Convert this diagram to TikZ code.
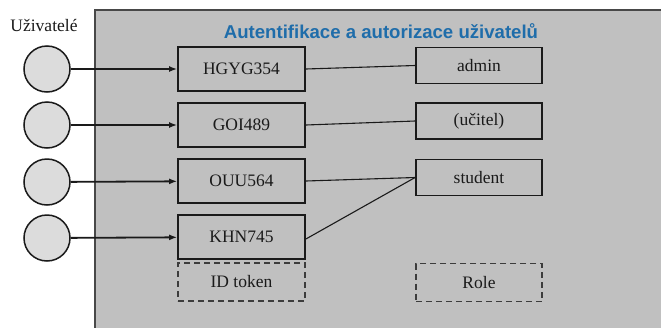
\documentclass[tikz,border=0pt]{standalone}
\usepackage{fontspec}
\setmainfont{Liberation Serif}
\newfontfamily\titlefont{Liberation Sans}
\usetikzlibrary{arrows.meta}
\definecolor{panel}{HTML}{C0C0C0}
\definecolor{userfill}{HTML}{DCDCDC}
\definecolor{titleblue}{HTML}{1F6DAA}
\definecolor{ink}{HTML}{1A1A1A}
\tikzset{
  user/.style={circle, draw=ink, line width=1.5pt, fill=userfill, minimum size=46pt, inner sep=0pt},
  idbox/.style={draw=ink, line width=1.8pt, fill=panel, minimum width=127pt, minimum height=44pt, inner sep=0pt, font=\fontsize{17.5}{20}\selectfont, text=ink},
  rolebox/.style={draw=ink, line width=1.8pt, fill=panel, minimum width=126pt, minimum height=36pt, inner sep=0pt, font=\fontsize{17.5}{20}\selectfont, text=ink},
  legendbox/.style={draw=ink!85, line width=1.9pt, dash pattern=on 6pt off 4pt, minimum width=127pt, minimum height=38pt, inner sep=0pt, font=\fontsize{17.5}{20}\selectfont, text=ink},
  login/.style={draw=ink, line width=1.8pt, -{Latex[length=8pt,width=6pt]}},
  assign/.style={draw=ink, line width=1.1pt}
}
\begin{document}
\begin{tikzpicture}[x=1pt,y=-1pt]
\useasboundingbox (0,0) rectangle (661,327);
\fill[white] (0,0) rectangle (661,327);
% system panel
\begin{scope}
\clip (0,0) rectangle (661,327);
\filldraw[fill=panel, draw=ink!80, line width=1.4pt] (95,10) rectangle (670,340);
\end{scope}
\node[font=\titlefont\bfseries\fontsize{18.6}{21}\selectfont, text=titleblue] (title) at (381,31) {Autentifikace a autorizace uživatelů};
\node[font=\fontsize{17.5}{19}\selectfont, text=ink] (users) at (44,25) {Uživatelé};

% users
\node[user] (u1) at (47,69) {};
\node[user] (u2) at (47,125) {};
\node[user] (u3) at (47,182) {};
\node[user] (u4) at (47,238) {};

% identity tokens
\node[idbox] (t1) at (241.5,69) {HGYG354};
\node[idbox] (t2) at (241.5,125) {GOI489};
\node[idbox] (t3) at (241.5,181) {OUU564};
\node[idbox] (t4) at (241.5,237) {KHN745};
\node[legendbox] (tl) at (241.5,282) {ID token};

% roles
\node[rolebox] (r1) at (479,65.5) {admin};
\node[rolebox] (r2) at (479,121) {(učitel)};
\node[rolebox] (r3) at (479,177.5) {student};
\node[legendbox, minimum width=126pt] (rl) at (479,282.5) {Role};

% logins
\draw[login] (u1) -- (t1);
\draw[login] (u2) -- (t2);
\draw[login] (u3) -- (t3);
\draw[login] (u4) -- (t4);

% role assignment
\draw[assign] (t1.east) -- (r1.west);
\draw[assign] (t2.east) -- (r2.west);
\draw[assign] (t3.east) -- (r3.west);
\draw[assign] ([yshift=-2pt]t4.east) -- (r3.west);
\end{tikzpicture}
\end{document}
